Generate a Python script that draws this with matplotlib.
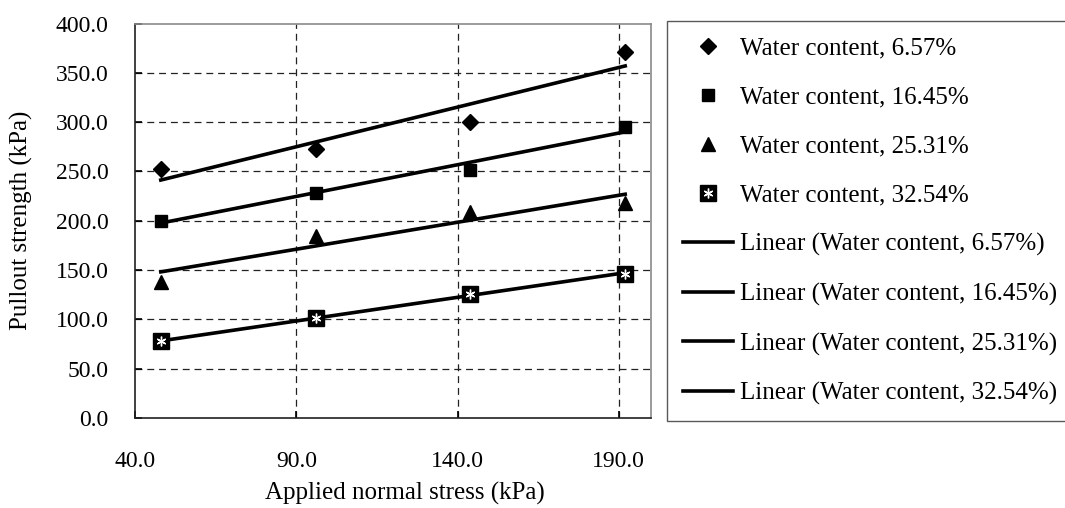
import numpy as np
import matplotlib
matplotlib.use("Agg")
import matplotlib.pyplot as plt

plt.rcParams['font.family'] = ['Liberation Serif', 'DejaVu Serif']
plt.rcParams['lines.scale_dashes'] = False

# normal stress (kPa)
stress = [48, 96, 144, 192]
# pullout strength (kPa) per water content
w657 = [252.2, 272.4, 300.5, 371.4]
w1645 = [200.2, 228.6, 251.5, 295.4]
w2531 = [138.4, 184.7, 209.3, 217.7]
w3254 = [77.6, 101.3, 125.9, 146.2]
names = ['Water content, 6.57%', 'Water content, 16.45%',
         'Water content, 25.31%', 'Water content, 32.54%']
xticks = [40, 90, 140, 190]
yticks = [0, 50, 100, 150, 200, 250, 300, 350, 400]

fs = 17
fig = plt.figure(figsize=(10.65, 5.08), dpi=100)
ax = fig.add_axes([135/1065, 90/508, 516/1065, 394.5/508])

x = np.array(stress, dtype=float)
series = [w657, w1645, w2531, w3254]

# gridlines
for gx in xticks[1:]:
    ax.axvline(gx, color='#222222', lw=0.9, dashes=(5, 3.5), zorder=1)
for gy in yticks[1:-1]:
    ax.axhline(gy, color='#222222', lw=0.9, dashes=(5, 3.5), zorder=1)

# markers
h1, = ax.plot(x, w657, ls='none', marker='D', ms=8.5, color='black', zorder=4)
h2, = ax.plot(x, w1645, ls='none', marker='s', ms=9, color='black', zorder=4)
h3, = ax.plot(x, w2531, ls='none', marker='^', ms=10, color='black', zorder=4)
h4a, = ax.plot(x, w3254, ls='none', marker='s', ms=11, color='black', zorder=4)
h4b, = ax.plot(x, w3254, ls='none', marker=(6, 2, 0), ms=7, mew=1.0,
               color='white', zorder=5)

# linear trendlines
lines = []
for ys in series:
    k, b = np.polyfit(x, ys, 1)
    ln, = ax.plot(x, k * x + b, color='black', lw=2.6, zorder=3)
    lines.append(ln)

ax.set_xlim(40, 200)
ax.set_ylim(0, 400)
ax.set_xticks(xticks)
ax.set_yticks(yticks)
ax.set_xticklabels(['%.1f' % t for t in xticks])
ax.set_yticklabels(['%.1f' % t for t in yticks])
ax.tick_params(axis='both', direction='in', length=5, width=1.2,
               labelsize=fs, colors='black')
ax.tick_params(axis='x', pad=24)
ax.tick_params(axis='y', pad=19)

for s in ['left', 'bottom']:
    ax.spines[s].set_color('#202020')
    ax.spines[s].set_linewidth(1.2)
for s in ['top', 'right']:
    ax.spines[s].set_color('#8a8a8a')
    ax.spines[s].set_linewidth(1.2)

ax.set_xlabel('Applied normal stress (kPa)', fontsize=18, va='center')
ax.xaxis.set_label_coords(0.523, -0.19)
ax.set_ylabel('Pullout strength (kPa)', fontsize=18, va='center')
ax.yaxis.set_label_coords(-0.22, 0.5)

handles = [h1, h2, h3, (h4a, h4b)] + lines
labels = names + ['Linear (%s)' % n for n in names]
leg = fig.legend(handles, labels, loc='upper left',
                 bbox_to_anchor=(667/1065, 0, 410/1065, 1 - 21/508),
                 mode='expand', fontsize=18, frameon=True, fancybox=False,
                 edgecolor='#303030', handlelength=2.0, handletextpad=0.25,
                 labelspacing=1.06, borderpad=0.65, borderaxespad=0)
leg.get_frame().set_linewidth(1.0)

fig.savefig('out.png', dpi=100)
